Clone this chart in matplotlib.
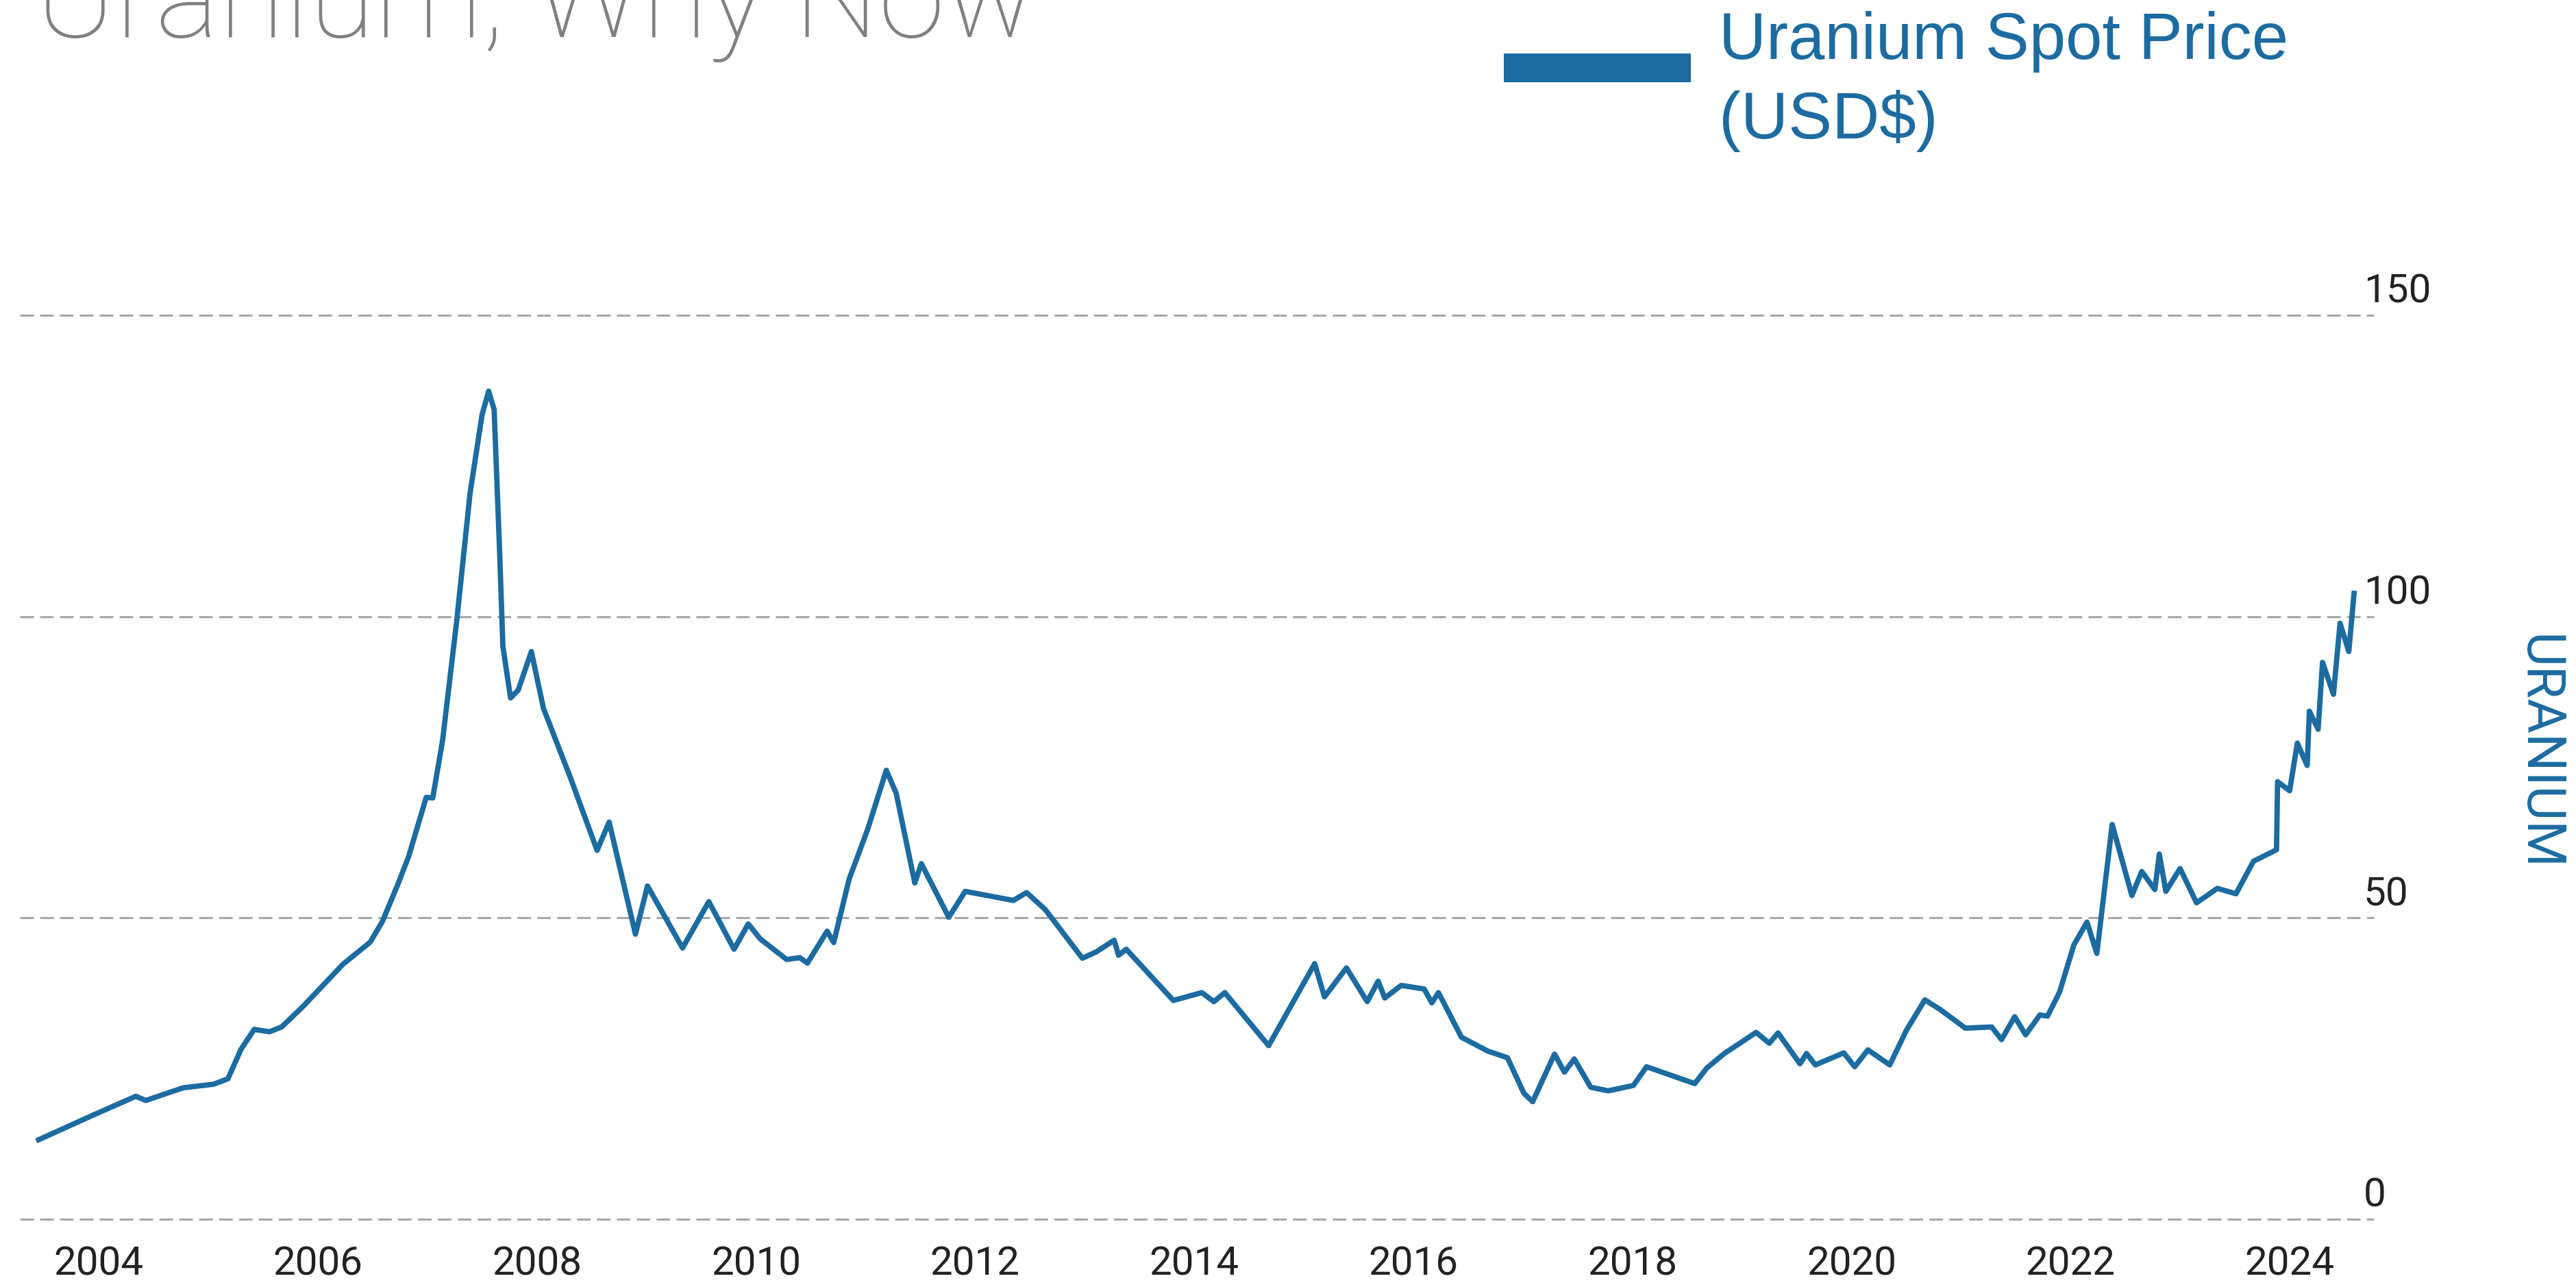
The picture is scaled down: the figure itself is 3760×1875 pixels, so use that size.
import matplotlib
matplotlib.use('Agg')
import matplotlib.pyplot as plt
from matplotlib.patches import Rectangle

# Uranium spot price (USD$)
years = [2003.43, 2003.94, 2004.34, 2004.43, 2004.77, 2005.05, 2005.18, 2005.30,
         2005.42, 2005.56, 2005.67, 2005.86, 2006.23, 2006.48, 2006.59, 2006.73,
         2006.83, 2006.99, 2007.05, 2007.14, 2007.27, 2007.39, 2007.50, 2007.56,
         2007.61, 2007.66, 2007.69, 2007.76, 2007.83, 2007.95, 2008.06, 2008.31,
         2008.55, 2008.66, 2008.90, 2009.01, 2009.33, 2009.57, 2009.80, 2009.93,
         2010.04, 2010.28, 2010.40, 2010.47, 2010.65, 2010.71, 2010.85, 2011.02,
         2011.19, 2011.28, 2011.45, 2011.51, 2011.76, 2011.91, 2012.35, 2012.47,
         2012.64, 2012.98, 2013.11, 2013.27, 2013.31, 2013.38, 2013.81, 2014.07,
         2014.18, 2014.28, 2014.68, 2015.10, 2015.19, 2015.39, 2015.58, 2015.68,
         2015.74, 2015.89, 2016.10, 2016.17, 2016.23, 2016.44, 2016.68, 2016.86,
         2017.01, 2017.09, 2017.29, 2017.38, 2017.47, 2017.62, 2017.78, 2018.01,
         2018.13, 2018.57, 2018.68, 2018.84, 2019.13, 2019.25, 2019.33, 2019.53,
         2019.59, 2019.67, 2019.93, 2020.03, 2020.15, 2020.35, 2020.50, 2020.67,
         2020.81, 2021.04, 2021.28, 2021.37, 2021.49, 2021.59, 2021.72, 2021.79,
         2021.90, 2022.03, 2022.15, 2022.24, 2022.38, 2022.56, 2022.65, 2022.77,
         2022.81, 2022.87, 2023.00, 2023.15, 2023.34, 2023.51, 2023.67, 2023.88,
         2023.89, 2024.00, 2024.07, 2024.16, 2024.18, 2024.26, 2024.30, 2024.40,
         2024.46, 2024.54, 2024.59]
prices = [13.0, 17.2, 20.4, 19.7, 21.8, 22.4, 23.3, 28.2,
          31.5, 31.1, 31.9, 35.2, 42.3, 46.0, 49.4, 55.5,
          60.2, 70.0, 69.9, 79.5, 99.5, 120.4, 133.5, 137.4,
          134.4, 110.9, 95.1, 86.5, 87.8, 94.2, 84.8, 73.1,
          61.2, 65.9, 47.3, 55.3, 45.0, 52.7, 44.8, 49.0,
          46.5, 43.1, 43.4, 42.5, 47.8, 45.9, 56.4, 64.7,
          74.5, 70.7, 55.8, 59.0, 50.1, 54.4, 52.9, 54.2,
          51.4, 43.3, 44.4, 46.3, 43.8, 44.8, 36.3, 37.6,
          36.1, 37.6, 28.8, 42.4, 36.9, 41.7, 36.1, 39.5,
          36.7, 38.8, 38.2, 35.9, 37.6, 30.2, 27.9, 26.8,
          20.9, 19.5, 27.4, 24.4, 26.6, 21.9, 21.3, 22.2,
          25.3, 22.5, 25.1, 27.5, 31.0, 29.2, 30.9, 25.8,
          27.5, 25.6, 27.6, 25.3, 28.1, 25.6, 31.3, 36.4,
          34.8, 31.7, 31.9, 29.8, 33.6, 30.6, 33.9, 33.7,
          37.7, 45.5, 49.3, 44.1, 65.5, 53.7, 57.7, 54.7,
          60.6, 54.4, 58.2, 52.5, 54.9, 54.0, 59.4, 61.3,
          72.6, 71.1, 79.0, 75.3, 84.3, 81.3, 92.4, 87.1,
          98.9, 94.2, 104.3]

year_ticks = [2004, 2006, 2008, 2010, 2012, 2014, 2016, 2018, 2020, 2022, 2024]
value_ticks = [0, 50, 100, 150]

BLUE = '#1c6ba1'
W, H, DPI = 3760, 1875, 200

fig = plt.figure(figsize=(W / DPI, H / DPI), dpi=DPI)
fig.patch.set_facecolor('white')

# axes box in pixels: x 29..3465, y 460..1779 (from top)
ax = fig.add_axes([29 / W, 1 - 1779 / H, (3465 - 29) / W, (1779 - 460) / H])
ax.set_xlim(2003.281, 2024.769)
ax.set_ylim(0, 150)
for s in ax.spines.values():
    s.set_visible(False)

for v in value_ticks:
    ax.axhline(v, color='#a8a8a8', lw=1.1, linestyle=(0, (6.5, 3)), zorder=1, clip_on=False)
    ax.annotate(str(v), xy=(1.0, v), xycoords=('axes fraction', 'data'),
                xytext=(-5.4, 6.5), textcoords='offset points',
                ha='left', va='baseline', fontsize=21, family='Roboto',
                color='#222222')

ax.plot(years, prices, color=BLUE, lw=2.8, solid_joinstyle='round',
        solid_capstyle='butt', zorder=3, clip_on=False)

ax.set_yticks([])
ax.set_xticks(year_ticks)
ax.set_xticklabels([str(y) for y in year_ticks], family='Roboto',
                   fontsize=21, color='#222222')
ax.tick_params(axis='x', length=0, pad=14)

# title, partly cut off at the top and left edges (as in the source)
fig.text(1511 / W, 1 - 54 / H, 'Why Uranium, Why Now', ha='right', va='baseline',
         fontsize=63, family='Roboto', fontweight='light', color='#808080')

# legend
fig.add_artist(Rectangle((2195 / W, 1 - 120 / H), 273 / W, 42 / H,
                         transform=fig.transFigure, color=BLUE, lw=0))
fig.text(2509 / W, 1 - 86 / H, 'Uranium Spot Price', ha='left', va='baseline',
         fontsize=34.5, family='Liberation Sans', color=BLUE)
fig.text(2509 / W, 1 - 202 / H, '(USD$)', ha='left', va='baseline',
         fontsize=34.5, family='Liberation Sans', color=BLUE)

# right-hand axis title
fig.text(3705 / W, 1 - 1098 / H, 'URANIUM', rotation=270, ha='center', va='center',
         fontsize=28, family='Roboto', color=BLUE)

fig.savefig('out.png', dpi=DPI)
